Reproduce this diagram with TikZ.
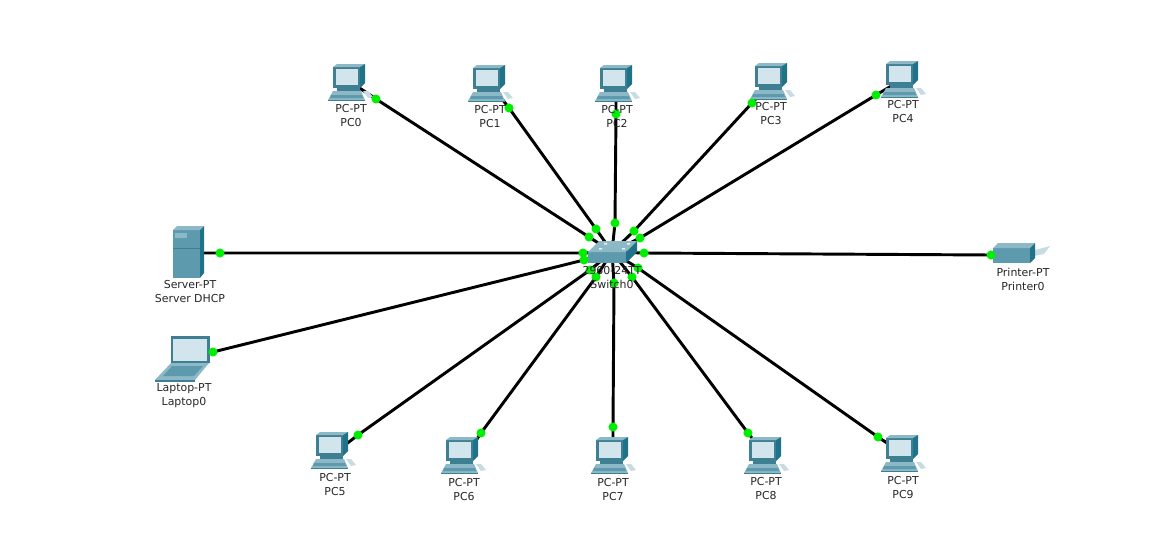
\documentclass[tikz,border=0pt]{standalone}
\usepackage{fontspec}
\setmainfont{DejaVu Sans}
\usetikzlibrary{backgrounds}
\definecolor{tealA}{HTML}{5E9AAE}
\definecolor{tealB}{HTML}{8DB8C6}
\definecolor{tealC}{HTML}{1F7288}
\definecolor{tealD}{HTML}{3F7F94}
\definecolor{scr}{HTML}{D2E5EC}
\definecolor{portg}{HTML}{00EE00}
\tikzset{
  x=0.75pt,y=-0.75pt,
  lab/.style={font=\fontsize{8.2}{10.5}\selectfont,align=center,inner sep=0pt,text=black!85},
  port/.style={circle,fill=portg,inner sep=0pt,minimum size=6.8pt},
  anch/.style={inner sep=0pt,minimum size=0pt},
  link/.style={line width=2.2pt,black},
  pics/pcicon/.style={code={
    \fill[tealD] (5,2)--(32,2)--(32,23)--(5,23)--cycle;
    \fill[tealB] (5,2)--(9,-1)--(37,-1)--(32,2)--cycle;
    \fill[tealC] (32,2)--(37,-1)--(37,18)--(32,23)--cycle;
    \fill[scr] (8,4)--(30,4)--(30,20)--(8,20)--cycle;
    \fill[tealD] (9,23)--(32,23)--(32,26)--(9,26)--cycle;
    \fill[tealB] (5,26)--(33,26)--(37,35)--(0,35)--cycle;
    \fill[tealA] (3,30)--(34,30)--(35,33)--(2,33)--cycle;
    \fill[tealD] (0,35)--(37,35)--(37,36)--(0,36)--cycle;
    \fill[tealB!50] (35,26)--(40,26)--(45,32)--(40,33)--cycle;
  }},
}
\begin{document}
\begin{tikzpicture}
\useasboundingbox (0,0) rectangle (1161,546);
% switch
\node[anch] (sw) at (612,252) {};
\fill[tealA] (588,252)--(626,252)--(626,263)--(588,263)--cycle;
\fill[tealB] (588,252)--(599,241)--(637,241)--(626,252)--cycle;
\fill[tealC] (626,252)--(637,241)--(637,252)--(626,263)--cycle;
\fill[white!85!tealA] (604,243) rectangle +(3,1.5) (627,243) rectangle +(3,1.5) (599,248) rectangle +(3,1.5) (622,248) rectangle +(3,1.5);
% server
\fill[tealA] (173,230)--(200,230)--(200,278)--(173,278)--cycle;
\fill[tealB] (173,230)--(177,226)--(204,226)--(200,230)--cycle;
\fill[tealC] (200,230)--(204,226)--(204,273)--(200,278)--cycle;
\fill[tealB] (175,233) rectangle (187,238);
\draw[tealD,line width=.4pt] (173,248)--(200,248);
% laptop
\fill[tealD] (171,336) rectangle (210,363);
\fill[scr] (173,339) rectangle (207,361);
\fill[tealB] (171,363)--(209,363)--(195,380)--(155,380)--cycle;
\fill[tealA] (172,366)--(203,366)--(194,376)--(163,376)--cycle;
\fill[tealD] (155,380)--(195,380)--(195,381.5)--(155,381.5)--cycle;
% printer
\fill[tealB!50] (1035,250)--(1050,246)--(1044,254)--(1034,256)--cycle;
\fill[tealA] (993,248)--(1030,248)--(1030,263)--(993,263)--cycle;
\fill[tealB] (993,248)--(998,243)--(1035,243)--(1030,248)--cycle;
\fill[tealC] (1030,248)--(1035,243)--(1035,258)--(1030,263)--cycle;
% computers
\pic at (328,65) {pcicon};
\pic at (468,66) {pcicon};
\pic at (595,66) {pcicon};
\pic at (750,64) {pcicon};
\pic at (881,62) {pcicon};
\pic at (311,433) {pcicon};
\pic at (441,438) {pcicon};
\pic at (591,438) {pcicon};
\pic at (744,438) {pcicon};
\pic at (881,436) {pcicon};
% device anchors (where each cable enters its device)
\node[anch] (pc0) at (358,87) {};
\node[anch] (pc1) at (499,95) {};
\node[anch] (pc2) at (616,95) {};
\node[anch] (pc3) at (766,88) {};
\node[anch] (pc4) at (893,85) {};
\node[anch] (srv) at (204,253) {};
\node[anch] (lap) at (208,353) {};
\node[anch] (prn) at (993,255) {};
\node[anch] (pc5) at (345,445) {};
\node[anch] (pc6) at (473,445) {};
\node[anch] (pc7) at (613,445) {};
\node[anch] (pc8) at (760,448) {};
\node[anch] (pc9) at (893,447) {};
% device-side ports
\node[port] (p0) at (376,99) {};
\node[port] (p1) at (509,108) {};
\node[port] (p2) at (616,114) {};
\node[port] (p3) at (752,103) {};
\node[port] (p4) at (876,95) {};
\node[port] (ps) at (220,253) {};
\node[port] (pl) at (213,352) {};
\node[port] (pp) at (991,255) {};
\node[port] (p5) at (358,435) {};
\node[port] (p6) at (481,433) {};
\node[port] (p7) at (613,427) {};
\node[port] (p8) at (748,433) {};
\node[port] (p9) at (878,437) {};
% switch-side ports
\node[port] (s0) at (589,237) {};
\node[port] (s1) at (596,229) {};
\node[port] (s2) at (615,223) {};
\node[port] (s3) at (634,231) {};
\node[port] (s4) at (640,238) {};
\node[port] (ss) at (583,253) {};
\node[port] (sl) at (584,260) {};
\node[port] (sp) at (644,253) {};
\node[port] (s5) at (590,270) {};
\node[port] (s6) at (596,277) {};
\node[port] (s7) at (614,283) {};
\node[port] (s8) at (632,277) {};
\node[port] (s9) at (638,268) {};
% cables
\begin{scope}[on background layer]
\foreach \d/\a/\b in {pc0/p0/s0,pc1/p1/s1,pc2/p2/s2,pc3/p3/s3,pc4/p4/s4,srv/ps/ss,lap/pl/sl,prn/pp/sp,pc5/p5/s5,pc6/p6/s6,pc7/p7/s7,pc8/p8/s8,pc9/p9/s9}
  \draw[link] (\d.center) -- (\a.center) -- (\b.center) -- (sw.center);
\end{scope}
% labels
\node[lab] (l0) at (351,116) {PC-PT\\PC0};
\node[lab] (l1) at (490,117) {PC-PT\\PC1};
\node[lab] (l2) at (617,117) {PC-PT\\PC2};
\node[lab] (l3) at (771,114) {PC-PT\\PC3};
\node[lab] (l4) at (903,112) {PC-PT\\PC4};
\node[lab] (ls) at (190,292) {Server-PT\\Server DHCP};
\node[lab] (ll) at (184,396) {Laptop-PT\\Laptop0};
\node[lab] (lp) at (1023,279) {Printer-PT\\Printer0};
\node[lab] (lw) at (612,278) {2960-24TT\\Switch0};
\node[lab] (l5) at (335,485) {PC-PT\\PC5};
\node[lab] (l6) at (464,490) {PC-PT\\PC6};
\node[lab] (l7) at (613,490) {PC-PT\\PC7};
\node[lab] (l8) at (766,489) {PC-PT\\PC8};
\node[lab] (l9) at (903,488) {PC-PT\\PC9};
\end{tikzpicture}
\end{document}
